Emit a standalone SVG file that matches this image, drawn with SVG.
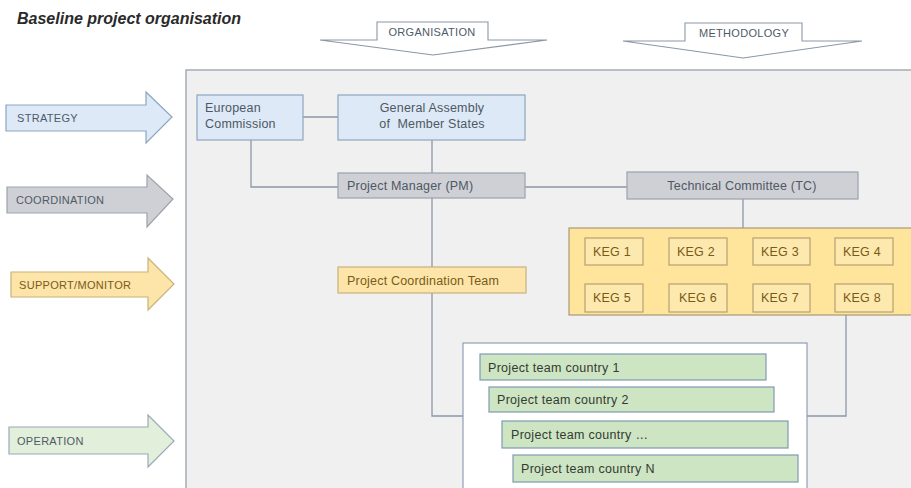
<svg xmlns="http://www.w3.org/2000/svg" width="911" height="488" viewBox="0 0 911 488">
<defs>
<style>
text{font-family:"Liberation Sans",Arial,sans-serif;}
.title{font-size:16px;font-weight:bold;font-style:italic;fill:#2a2a2a;}
.lbl{font-size:11px;fill:#4e5a68;letter-spacing:0.3px;}
.nt{font-size:12.5px;fill:#4e5864;letter-spacing:0.2px;}
.ot{font-size:12.5px;fill:#7a5a18;letter-spacing:0.2px;}
.gt{font-size:12.5px;fill:#333a33;letter-spacing:0.3px;}
.conn{stroke:#8a98a8;stroke-width:1.3;fill:none;}
.blue{fill:#dde9f6;stroke:#8ea6bf;stroke-width:1.2;}
.gray{fill:#cfd0d5;stroke:#9ca2ac;stroke-width:1.2;}
.orange{fill:#fde4a8;stroke:#c9b27a;stroke-width:1.2;}
.keg{fill:#fde9ad;stroke:#b8a070;stroke-width:1.2;}
.green{fill:#cde5c2;stroke:#7f9ab2;stroke-width:1.2;}
.hdr{fill:#ffffff;stroke:#8b97a5;stroke-width:1.1;}
</style>
</defs>
<rect width="911" height="488" fill="#ffffff"/>
<text class="title" x="17" y="24">Baseline project organisation</text>

<g id="arrow-organisation">
<polygon class="hdr" points="377,22 488,22 488,40 547,40 433,55 320,40 377,40"/>
<text class="lbl" x="432" y="36" text-anchor="middle">ORGANISATION</text>
</g>
<g id="arrow-methodology">
<polygon class="hdr" points="685,23 802,23 802,41 862,41 743,58 623,41 685,41"/>
<text class="lbl" x="744" y="37" text-anchor="middle">METHODOLOGY</text>
</g>

<g id="container">
<rect x="186" y="70" width="730" height="425" fill="#f0f0f0" stroke="#a4acb6" stroke-width="1.5"/>
</g>

<g id="arrow-strategy">
<polygon class="blue" points="6,105 146,105 146,92 172,117 146,143 146,131 6,131"/>
<text class="lbl" x="17" y="122">STRATEGY</text>
</g>
<g id="arrow-coordination">
<polygon class="gray" points="7,187 147,187 147,175 173,199 147,227 147,213 7,213"/>
<text class="lbl" x="16" y="204">COORDINATION</text>
</g>
<g id="arrow-support">
<polygon class="orange" points="11,272 148,272 148,258 174,284 148,310 148,297 11,297"/>
<text class="lbl" x="19" y="289" style="fill:#7a5a18">SUPPORT/MONITOR</text>
</g>
<g id="arrow-operation">
<polygon class="green" points="9,427 148,427 148,415 174,441 148,467 148,454 9,454" style="fill:#e2efda;stroke:#9aaab8"/>
<text class="lbl" x="17" y="445">OPERATION</text>
</g>

<g id="connectors">
<line class="conn" x1="303" y1="117" x2="338" y2="117"/>
<polyline class="conn" points="251,140 251,187 338,187"/>
<line class="conn" x1="432" y1="140" x2="432" y2="173"/>
<line class="conn" x1="525" y1="187" x2="627" y2="187"/>
<line class="conn" x1="743" y1="199" x2="743" y2="228"/>
<polyline class="conn" points="432,198 432,416 463,416"/>
<polyline class="conn" points="846,315 846,416 807,416"/>
</g>

<g id="european-commission">
<rect class="blue" x="197" y="95" width="106" height="45"/>
<text class="nt" x="205" y="112">European</text>
<text class="nt" x="205" y="128">Commission</text>
</g>
<g id="general-assembly">
<rect class="blue" x="338" y="95" width="187" height="45"/>
<text class="nt" x="432" y="112" text-anchor="middle">General Assembly</text>
<text class="nt" x="432" y="128" text-anchor="middle" xml:space="preserve">of  Member States</text>
</g>
<g id="project-manager">
<rect class="gray" x="338" y="173" width="187" height="25"/>
<text class="nt" x="347" y="190">Project Manager (PM)</text>
</g>
<g id="technical-committee">
<rect class="gray" x="627" y="172" width="231" height="27"/>
<text class="nt" x="742" y="190" text-anchor="middle">Technical Committee (TC)</text>
</g>
<g id="project-coordination-team">
<rect class="orange" x="338" y="267" width="188" height="26"/>
<text class="ot" x="347" y="285">Project Coordination Team</text>
</g>

<g id="keg-group">
<rect x="569" y="228" width="350" height="87" fill="#ffe49c" stroke="#a89a78" stroke-width="1.2"/>
<g id="keg1"><rect class="keg" x="585" y="238" width="58" height="27"/><text class="ot" x="593" y="256">KEG 1</text></g>
<g id="keg2"><rect class="keg" x="669" y="238" width="58" height="27"/><text class="ot" x="677" y="256">KEG 2</text></g>
<g id="keg3"><rect class="keg" x="753" y="238" width="57" height="27"/><text class="ot" x="761" y="256">KEG 3</text></g>
<g id="keg4"><rect class="keg" x="835" y="238" width="58" height="27"/><text class="ot" x="843" y="256">KEG 4</text></g>
<g id="keg5"><rect class="keg" x="585" y="284" width="58" height="28"/><text class="ot" x="593" y="302">KEG 5</text></g>
<g id="keg6"><rect class="keg" x="669" y="284" width="58" height="28"/><text class="ot" x="679" y="302">KEG 6</text></g>
<g id="keg7"><rect class="keg" x="753" y="284" width="57" height="28"/><text class="ot" x="761" y="302">KEG 7</text></g>
<g id="keg8"><rect class="keg" x="835" y="284" width="58" height="28"/><text class="ot" x="843" y="302">KEG 8</text></g>
</g>

<g id="country-teams">
<rect x="463" y="343" width="344" height="150" fill="#ffffff" stroke="#8ea0b4" stroke-width="1.2"/>
<g id="team1"><rect class="green" x="480" y="354" width="286" height="26"/><text class="gt" x="488" y="372">Project team country 1</text></g>
<g id="team2"><rect class="green" x="489" y="387" width="285" height="25"/><text class="gt" x="497" y="404">Project team country 2</text></g>
<g id="team3"><rect class="green" x="502" y="421" width="286" height="27"/><text class="gt" x="511" y="439">Project team country …</text></g>
<g id="teamN"><rect class="green" x="513" y="455" width="285" height="27"/><text class="gt" x="521" y="473">Project team country N</text></g>
</g>
</svg>
